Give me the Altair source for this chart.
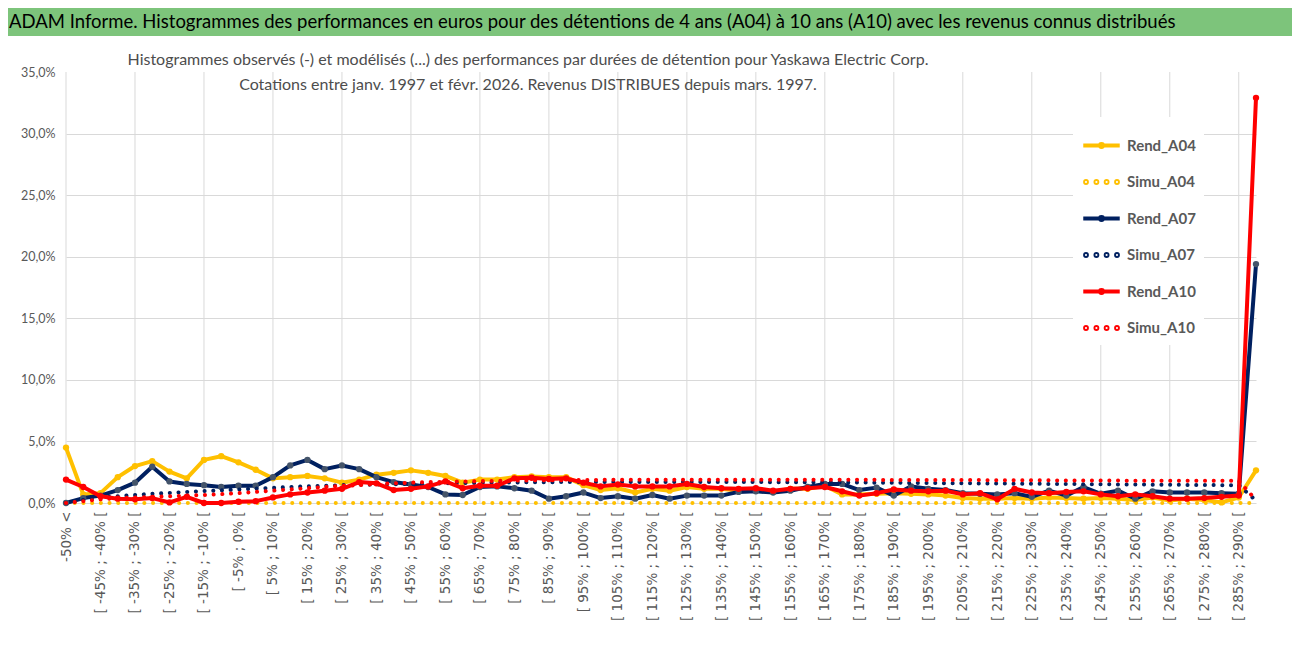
import altair as alt
import pandas as pd

banner_text = ("ADAM Informe. Histogrammes des performances en euros pour des détentions "
               "de 4 ans (A04) à 10 ans (A10) avec les revenus connus distribués")
subtitle_lines = [
    "Histogrammes observés (-) et modélisés (...) des performances par durées de détention pour Yaskawa Electric Corp.",
    "Cotations entre janv. 1997 et févr. 2026. Revenus DISTRIBUES depuis mars. 1997.",
]

categories = ["-50% <"] + [f"[ {a}% ; {a + 5}% [" for a in range(-50, 290, 5)] + ["> 290%"]

rend_a04 = [4.5, 0.7, 0.8, 2.1, 3.0, 3.4, 2.55, 2.0, 3.5, 3.8,
            3.3, 2.7, 2.0, 2.1, 2.2, 2.0, 1.65, 1.9, 2.3, 2.45,
            2.65, 2.45, 2.2, 1.65, 1.9, 1.9, 2.1, 2.15, 2.1, 2.1,
            1.45, 1.05, 1.2, 0.85, 1.15, 1.0, 1.3, 1.15, 1.15, 1.0,
            1.0, 0.9, 1.15, 1.15, 1.4, 0.7, 0.7, 0.75, 0.8, 0.75,
            0.7, 0.6, 0.4, 0.35, 0.35, 0.4, 0.35, 0.45, 0.4, 0.35,
            0.4, 0.35, 0.25, 0.45, 0.2, 0.35, 0.25, 0.05, 0.45, 2.65]
simu_a04 = [0.0, 0.0, 0.0, 0.0, 0.0, 0.0, 0.0, 0.0, 0.0, 0.0,
            0.0, 0.0, 0.0, 0.0, 0.0, 0.0, 0.0, 0.0, 0.0, 0.0,
            0.0, 0.0, 0.0, 0.0, 0.0, 0.0, 0.0, 0.0, 0.0, 0.0,
            0.0, 0.0, 0.0, 0.0, 0.0, 0.0, 0.0, 0.0, 0.0, 0.0,
            0.0, 0.0, 0.0, 0.0, 0.0, 0.0, 0.0, 0.0, 0.0, 0.0,
            0.0, 0.0, 0.0, 0.0, 0.0, 0.0, 0.0, 0.0, 0.0, 0.0,
            0.0, 0.0, 0.0, 0.0, 0.0, 0.0, 0.0, 0.0, 0.0, 0.0]
rend_a07 = [0.0, 0.4, 0.6, 1.05, 1.65, 2.95, 1.75, 1.55, 1.45, 1.3,
            1.4, 1.4, 2.1, 3.05, 3.5, 2.75, 3.05, 2.75, 2.1, 1.7,
            1.5, 1.3, 0.7, 0.65, 1.3, 1.35, 1.2, 1.0, 0.35, 0.55,
            0.85, 0.4, 0.55, 0.35, 0.65, 0.35, 0.6, 0.6, 0.6, 0.9,
            0.95, 0.85, 1.0, 1.3, 1.55, 1.55, 1.05, 1.25, 0.6, 1.35,
            1.15, 1.05, 0.8, 0.75, 0.7, 0.8, 0.5, 1.0, 0.6, 1.3,
            0.75, 1.0, 0.35, 0.95, 0.85, 0.85, 0.85, 0.8, 0.75, 19.4]
simu_a07 = [0.0, 0.25, 0.45, 0.55, 0.65, 0.75, 0.82, 0.9, 0.97, 1.03,
            1.1, 1.17, 1.23, 1.3, 1.36, 1.4, 1.45, 1.48, 1.5, 1.53,
            1.55, 1.57, 1.6, 1.62, 1.64, 1.66, 1.67, 1.68, 1.69, 1.7,
            1.7, 1.7, 1.7, 1.7, 1.7, 1.7, 1.7, 1.7, 1.7, 1.7,
            1.7, 1.69, 1.69, 1.68, 1.68, 1.67, 1.66, 1.65, 1.64, 1.63,
            1.62, 1.61, 1.6, 1.59, 1.58, 1.57, 1.56, 1.55, 1.54, 1.53,
            1.52, 1.51, 1.5, 1.49, 1.48, 1.47, 1.46, 1.45, 1.45, 0.2]
rend_a10 = [1.9, 1.3, 0.55, 0.35, 0.3, 0.4, 0.05, 0.5, 0.0, 0.0,
            0.1, 0.15, 0.45, 0.7, 0.85, 1.0, 1.15, 1.7, 1.6, 1.05,
            1.15, 1.35, 1.75, 1.2, 1.4, 1.4, 2.0, 2.05, 1.95, 2.0,
            1.65, 1.35, 1.5, 1.35, 1.35, 1.35, 1.55, 1.3, 1.2, 1.15,
            1.2, 1.0, 1.15, 1.2, 1.3, 0.95, 0.6, 0.8, 1.1, 1.0,
            0.95, 1.0, 0.7, 0.8, 0.3, 1.15, 0.85, 0.8, 0.9, 0.95,
            0.7, 0.55, 0.7, 0.55, 0.35, 0.35, 0.4, 0.5, 0.6, 32.9]
simu_a10 = [0.0, 0.15, 0.3, 0.4, 0.45, 0.5, 0.55, 0.6, 0.65, 0.72,
            0.8, 0.9, 1.0, 1.1, 1.2, 1.3, 1.4, 1.45, 1.55, 1.6,
            1.65, 1.7, 1.72, 1.75, 1.78, 1.8, 1.82, 1.84, 1.85, 1.86,
            1.87, 1.88, 1.88, 1.88, 1.88, 1.88, 1.88, 1.88, 1.88, 1.88,
            1.88, 1.88, 1.88, 1.88, 1.88, 1.88, 1.88, 1.88, 1.87, 1.87,
            1.87, 1.86, 1.86, 1.86, 1.85, 1.85, 1.84, 1.84, 1.83, 1.83,
            1.82, 1.82, 1.81, 1.81, 1.8, 1.8, 1.8, 1.8, 1.8, 0.25]

series_names = ["Rend_A04", "Simu_A04", "Rend_A07", "Simu_A07", "Rend_A10", "Simu_A10"]
series_values = [rend_a04, simu_a04, rend_a07, simu_a07, rend_a10, simu_a10]
line_colors = ["#FFC000", "#FFC000", "#002060", "#002060", "#FF0000", "#FF0000"]
dotted = {"Simu_A04", "Simu_A07", "Simu_A10"}
DOT_DASH = [0.1, 8.6]
marker_series = ["Rend_A04", "Rend_A07", "Rend_A10"]
marker_colors = ["#FFC000", "#44546A", "#FF0000"]

# legend glyphs: solid line with a centre dot, or a row of four dots
LINE_DOT = "M-1,0L1,0M-0.08,0A0.08,0.08,0,1,1,0.08,0A0.08,0.08,0,1,1,-0.08,0"
FOUR_DOTS = "".join(
    f"M{c - 0.05:.2f},0A0.05,0.05,0,1,1,{c + 0.05:.2f},0A0.05,0.05,0,1,1,{c - 0.05:.2f},0"
    for c in (-0.85, -0.28, 0.28, 0.85)
)
legend_shapes = [FOUR_DOTS if s in dotted else LINE_DOT for s in series_names]

rows = []
for name, vals in zip(series_names, series_values):
    assert len(vals) == len(categories)
    for i, (c, v) in enumerate(zip(categories, vals)):
        rows.append({"cat": c, "idx": i, "series": name, "val": v / 100})
df = pd.DataFrame(rows)

grid_df = pd.DataFrame({"cat": categories[::4]})

GREY = "#595959"
GRID = "#D9D9D9"

x_scale = alt.Scale(domain=categories, type="point", padding=0)
x_axis = alt.Axis(values=categories[::2], grid=False, domain=False, ticks=False,
                  labelAngle=270, labelFont="DejaVu Sans", labelFontSize=13.5,
                  labelColor=GREY, labelPadding=8, labelOverlap=False, title=None)
y_axis = alt.Axis(values=[0, 0.05, 0.10, 0.15, 0.20, 0.25, 0.30, 0.35],
                  labelExpr="replace(format(datum.value, '.1%'), '.', ',')",
                  grid=True, gridColor=GRID, gridWidth=1,
                  gridOpacity={"condition": {"test": "datum.value > 0.349", "value": 0}, "value": 1},
                  domain=False, ticks=False,
                  labelFont="Lato", labelFontSize=12.5, labelColor=GREY,
                  labelPadding=11, minExtent=58, maxExtent=58, title=None)

# the legend is shared at the concat level, so legendX/legendY are measured from its origin
legend = alt.Legend(
    title=None, orient="none", legendX=1007, legendY=109,
    symbolSize=1330, symbolStrokeWidth=4, symbolOpacity=1,
    labelFont="Lato", labelFontSize=15, labelFontWeight="bold", labelColor=GREY,
    labelOffset=5, rowPadding=6.5, padding=8, fillColor="white",
)

color_scale = alt.Scale(domain=series_names, range=line_colors)
x_enc = alt.X("cat:O", scale=x_scale, axis=x_axis)
y_enc = alt.Y("val:Q", scale=alt.Scale(domain=[0, 0.35], nice=False), axis=y_axis)

rules = alt.Chart(grid_df).mark_rule(color=GRID, strokeWidth=1).encode(x=x_enc)

# invisible points that carry the legend (colour + glyph per series)
legend_layer = alt.Chart(df).mark_point(filled=False, opacity=0).encode(
    x=x_enc, y=y_enc,
    color=alt.Color("series:N", scale=color_scale, legend=legend),
    shape=alt.Shape("series:N", scale=alt.Scale(domain=series_names, range=legend_shapes), legend=legend),
)

layers = [rules, legend_layer]
for name in series_names:
    if name in dotted:
        line_mark = alt.Chart(df).mark_line(strokeWidth=4, strokeCap="round", strokeJoin="round",
                                            strokeDash=DOT_DASH)
    else:
        line_mark = alt.Chart(df).mark_line(strokeWidth=4, strokeCap="round", strokeJoin="round")
    layers.append(
        line_mark.transform_filter(alt.datum.series == name)
        .encode(x=x_enc, y=y_enc, color=alt.Color("series:N", scale=color_scale, legend=legend),
                order=alt.Order("idx:Q"))
    )
    if name in marker_series:
        layers.append(
            alt.Chart(df).transform_filter(alt.datum.series == name)
            .mark_circle(size=40, opacity=1)
            .encode(x=x_enc, y=y_enc,
                    fill=alt.Fill("series:N", scale=alt.Scale(domain=marker_series, range=marker_colors),
                                  legend=None))
        )

main = alt.layer(*layers).properties(
    width=1190, height=431,
    title=alt.TitleParams(text=subtitle_lines, font="Lato", fontSize=16, fontWeight="normal",
                          color="#4D4D4D", lineHeight=25, anchor="middle", frame="group",
                          dx=-133, offset=-27),
)

header = alt.layer(
    alt.Chart(pd.DataFrame({"t": [banner_text]})).mark_rect(color="#7DC47B").encode(
        x=alt.value(-58), x2=alt.value(1226), y=alt.value(0), y2=alt.value(28)),
    alt.Chart(pd.DataFrame({"t": [banner_text]})).mark_text(
        align="left", baseline="middle", font="Lato", fontSize=18.5, color="black"
    ).encode(text="t:N", x=alt.value(-57), y=alt.value(14)),
).properties(width=1226, height=28)

chart = alt.vconcat(header, main, spacing=16).properties(padding=0, background="white").configure_view(strokeWidth=0)

chart.save("out.html", embed_options={"renderer": "svg", "actions": False})
